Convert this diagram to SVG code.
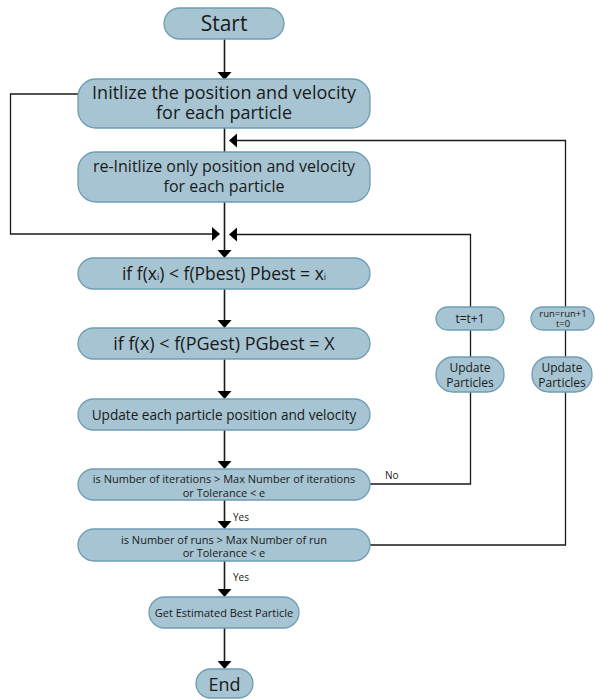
<svg xmlns="http://www.w3.org/2000/svg" width="595" height="700" viewBox="0 0 595 700">
<style>
.n{fill:#a6c4d2;stroke:#6f9db4;stroke-width:1.3}
.t{font-family:"Open Sans","Liberation Sans",sans-serif;fill:#1a1a1a;text-anchor:middle}
.c{fill:none;stroke:#1a1a1a;stroke-width:1.3}
.m{stroke-width:1.6}
.a{fill:#000}
.l{font-family:"Open Sans","Liberation Sans",sans-serif;fill:#1a1a1a;font-size:10px}
</style>
<rect width="595" height="700" fill="#fff"/>
<g id="connectors">
<path class="c m" d="M224.5 39V74"/>
<path class="c m" d="M224.5 128V152"/>
<path class="c m" d="M224.5 202V252"/>
<path class="c m" d="M224.5 289V322"/>
<path class="c m" d="M224.5 359V392"/>
<path class="c m" d="M224.5 430V462"/>
<path class="c m" d="M224.5 500V522"/>
<path class="c m" d="M224.5 561V590"/>
<path class="c m" d="M224.5 628V662"/>
<path class="c" d="M78 94H10.5V234H212"/>
<path class="c" d="M370 484H470.5V234.5H236"/>
<path class="c" d="M370 545H565.5V140.5H236"/>
<polygon class="a" points="217.5,72 231.5,72 224.5,80"/>
<polygon class="a" points="217.5,250 231.5,250 224.5,258"/>
<polygon class="a" points="217.5,320 231.5,320 224.5,328"/>
<polygon class="a" points="217.5,391 231.5,391 224.5,399"/>
<polygon class="a" points="217.5,461 231.5,461 224.5,469"/>
<polygon class="a" points="217.5,521 231.5,521 224.5,529"/>
<polygon class="a" points="217.5,589 231.5,589 224.5,597"/>
<polygon class="a" points="217.5,661 231.5,661 224.5,669"/>
<polygon class="a" points="212,227 212,241 220,234"/>
<polygon class="a" points="237,227.5 237,241.5 229,234.5"/>
<polygon class="a" points="237,133.5 237,147.5 229,140.5"/>
<text class="l" x="385" y="479">No</text>
<text class="l" x="233" y="521">Yes</text>
<text class="l" x="233" y="581">Yes</text>
</g>
<g id="start"><rect class="n" x="164" y="8" width="120" height="31" rx="15.5"/><text class="t" x="224" y="31" font-size="21">Start</text></g>
<g id="init"><rect class="n" x="78" y="79" width="292" height="49" rx="18"/><text class="t" x="224" y="99" font-size="18">Initlize the position and velocity</text><text class="t" x="224" y="119" font-size="18">for each particle</text></g>
<g id="reinit"><rect class="n" x="78" y="152" width="292" height="50" rx="18"/><text class="t" x="224" y="172" font-size="16">re-Initlize only position and velocity</text><text class="t" x="224" y="192" font-size="16">for each particle</text></g>
<g id="pbest"><rect class="n" x="78" y="258" width="292" height="31" rx="15.5"/><text class="t" x="224" y="280" font-size="17.5">if f(x<tspan font-size="9">i</tspan>) &lt; f(Pbest) Pbest = x<tspan font-size="9">i</tspan></text></g>
<g id="gbest"><rect class="n" x="78" y="328" width="292" height="31" rx="15.5"/><text class="t" x="224" y="350" font-size="18">if f(x) &lt; f(PGest) PGbest = X</text></g>
<g id="update"><rect class="n" x="78" y="399" width="292" height="31" rx="15.5"/><text class="t" x="224" y="420" font-size="13.6">Update each particle position and velocity</text></g>
<g id="iter"><rect class="n" x="78" y="469" width="292" height="31" rx="15.5"/><text class="t" x="224" y="483" font-size="11">is Number of iterations &gt; Max Number of iterations</text><text class="t" x="224" y="497" font-size="11">or Tolerance &lt; e</text></g>
<g id="runs"><rect class="n" x="78" y="529" width="292" height="32" rx="16"/><text class="t" x="224" y="544" font-size="11">is Number of runs &gt; Max Number of run</text><text class="t" x="224" y="557" font-size="11">or Tolerance &lt; e</text></g>
<g id="best"><rect class="n" x="149" y="597" width="150" height="31" rx="15.5"/><text class="t" x="224" y="617" font-size="11">Get Estimated Best Particle</text></g>
<g id="end"><rect class="n" x="196" y="669" width="57" height="29" rx="14.5"/><text class="t" x="224.5" y="691" font-size="18">End</text></g>
<g id="tinc"><rect class="n" x="436" y="307" width="68" height="23" rx="11.5"/><text class="t" x="470" y="323" font-size="12">t=t+1</text></g>
<g id="upd1"><rect class="n" x="436" y="357" width="68" height="35" rx="17"/><text class="t" x="470" y="372" font-size="12">Update</text><text class="t" x="470" y="387" font-size="12">Particles</text></g>
<g id="runinc"><rect class="n" x="531" y="307" width="63" height="23" rx="11.5"/><text class="t" x="563" y="317" font-size="9.5">run=run+1</text><text class="t" x="563" y="327" font-size="9.5">t=0</text></g>
<g id="upd2"><rect class="n" x="532" y="357" width="60" height="35" rx="17"/><text class="t" x="562" y="372" font-size="12">Update</text><text class="t" x="562" y="387" font-size="12">Particles</text></g>
</svg>
